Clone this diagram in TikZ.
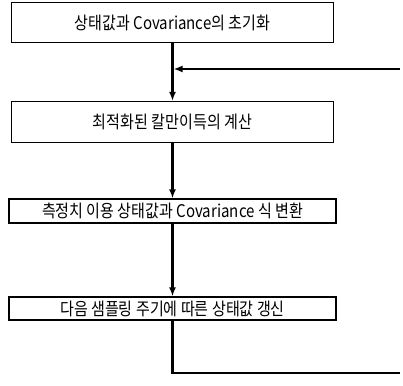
\documentclass[tikz,border=0pt]{standalone}
\usepackage{fontspec}
\setmainfont{Noto Sans CJK KR}[FakeStretch=0.86]
\usetikzlibrary{arrows.meta}
\begin{document}
\begin{tikzpicture}[x=1pt,y=-1pt,
  stepbox/.style={draw=black,line width=1.2pt,rectangle,inner sep=0pt,
    font=\fontsize{17.5}{20}\selectfont},
  flow/.style={line width=2.2pt,-{Latex[length=9pt,width=7pt]}},
  flowline/.style={line width=2.2pt}]
\useasboundingbox (0,0) rectangle (403,385);
\node[stepbox,minimum width=322pt,minimum height=40pt] (b1) at (172.5,22.5) {상태값과 Covariance의 초기화};
\node[stepbox,minimum width=322pt,minimum height=41pt] (b2) at (172.5,122) {최적화된 칼만이득의 계산};
\node[stepbox,minimum width=327pt,minimum height=24pt] (b3) at (172.5,211) {측정치 이용 상태값과 Covariance 식 변환};
\node[stepbox,minimum width=327pt,minimum height=23pt] (b4) at (172.5,308.5) {다음 샘플링 주기에 따른 상태값 갱신};
\coordinate (fbR) at (400,69);
\coordinate (bl) at (172.5,373);
\coordinate (br) at (400,373);
\draw[flow] (b1.south) -- (b2.north);
\draw[flow] (fbR) -- ([xshift=1pt]b1.south |- fbR);
\draw[flow] (b2.south) -- (b3.north);
\draw[flow] (b3.south) -- (b4.north);
\draw[flowline] (b4.south) -- (bl) -- (br);
\end{tikzpicture}
\end{document}
